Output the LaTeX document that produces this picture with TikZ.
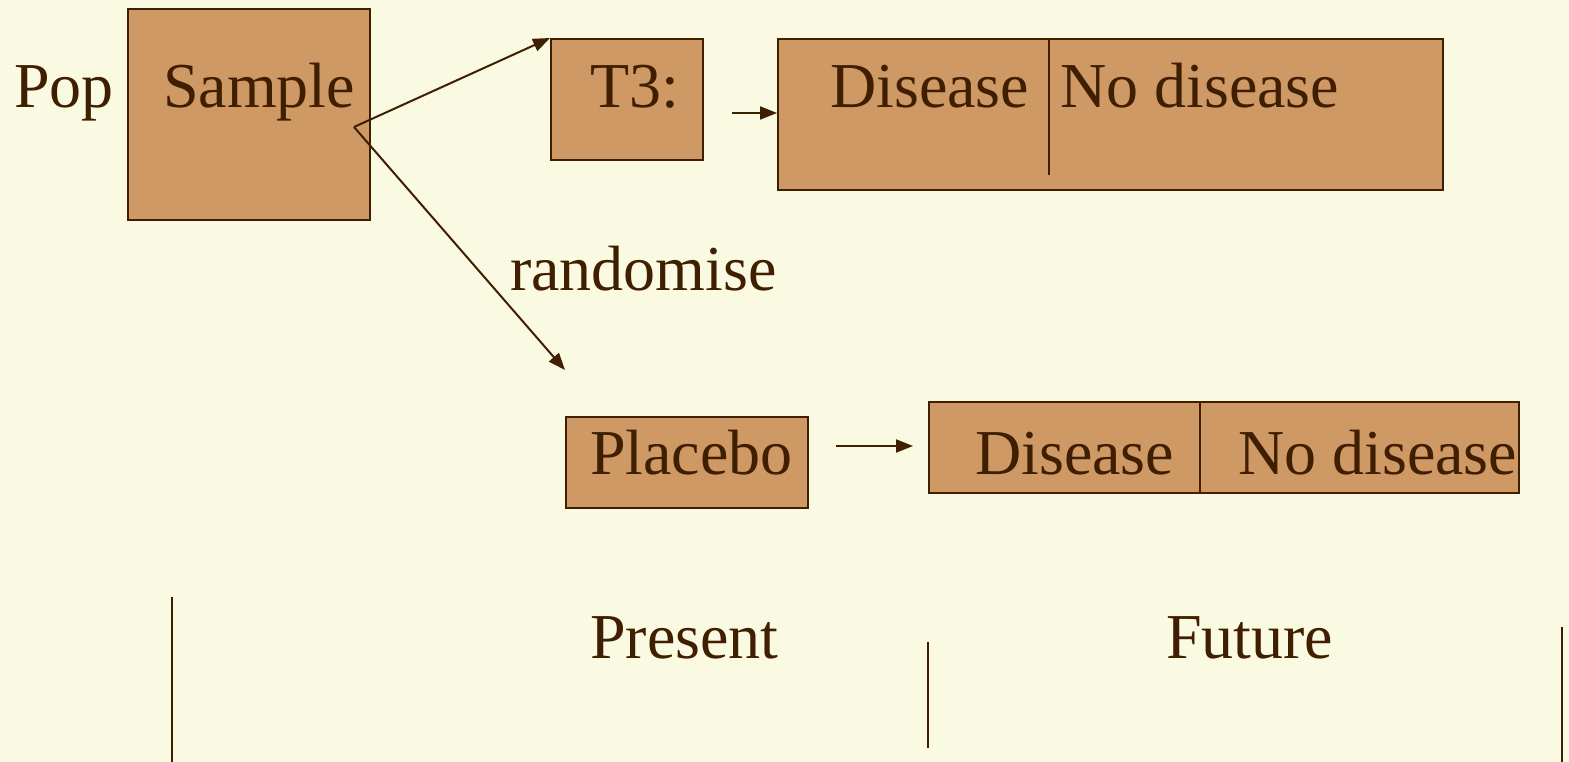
\documentclass[tikz,border=0pt]{standalone}
\usepackage{fontspec}
\setmainfont{Liberation Serif}
\usetikzlibrary{arrows.meta}
\definecolor{bgcream}{HTML}{FAFAE2}
\definecolor{boxfill}{HTML}{CF9966}
\definecolor{ink}{HTML}{3F1F00}
\begin{document}
\begin{tikzpicture}[x=1pt,y=-1pt,
  box/.style={draw=ink,fill=boxfill,line width=1.8pt,inner sep=0pt,anchor=north west},
  lbl/.style={text=ink,inner sep=0pt,anchor=base west,font=\fontsize{64}{70}\selectfont},
  conn/.style={draw=ink,line width=2pt,-{Triangle[length=17pt,width=13pt]}},
  rule/.style={draw=ink,line width=2.2pt}]
\fill[bgcream] (0,0) rectangle (1569,762);
\useasboundingbox (0,0) rectangle (1569,762);

% boxes
\node[box,minimum width=242pt,minimum height=211pt] (sample) at (127,8) {};
\node[box,minimum width=152pt,minimum height=121pt] (t3) at (550,38) {};
\node[box,minimum width=665pt,minimum height=151pt] (out1) at (777,38) {};
\node[box,minimum width=242pt,minimum height=91pt] (placebo) at (565,416) {};
\node[box,minimum width=590pt,minimum height=91pt] (out2) at (928,401) {};

% dividers inside outcome boxes
\coordinate (d1top) at (1049,38);
\coordinate (d1bot) at (1049,175);
\draw[draw=ink,line width=1.8pt] (d1top) -- (d1bot);
\coordinate (d2top) at (1200,401);
\coordinate (d2bot) at (1200,492);
\draw[draw=ink,line width=1.8pt] (d2top) -- (d2bot);

% labels
\node[lbl] (pop) at (14,108) {Pop};
\node[lbl] (samplet) at (163,108) {Sample};
\node[lbl] (t3t) at (590,108) {T3:};
\node[lbl] (dis1) at (830,108) {Disease};
\node[lbl] (nodis1) at (1060,108) {No disease};
\node[lbl] (rand) at (510,290) {randomise};
\node[lbl] (placebot) at (590,474) {Placebo};
\node[lbl] (dis2) at (975,474) {Disease};
\node[lbl] (nodis2) at (1238,474) {No disease};
\node[lbl] (present) at (590,658) {Present};
\node[lbl] (future) at (1166,658) {Future};

% connectors
\coordinate (split) at (354,127);
\draw[conn] (split) -- (t3.north west);
\coordinate (randend) at (565,370);
\draw[conn] (split) -- (randend);
\coordinate (a1) at (732,113);
\draw[conn] (a1) -- (out1.west |- a1);
\coordinate (a2) at (836,446);
\coordinate (a2end) at (913,446);
\draw[conn] (a2) -- (a2end);

% time axis ticks
\coordinate (r1a) at (172,597);
\coordinate (r1b) at (172,762);
\draw[rule] (r1a) -- (r1b);
\coordinate (r2a) at (928,642);
\coordinate (r2b) at (928,748);
\draw[rule] (r2a) -- (r2b);
\coordinate (r3a) at (1562,627);
\coordinate (r3b) at (1562,762);
\draw[rule] (r3a) -- (r3b);
\end{tikzpicture}
\end{document}
